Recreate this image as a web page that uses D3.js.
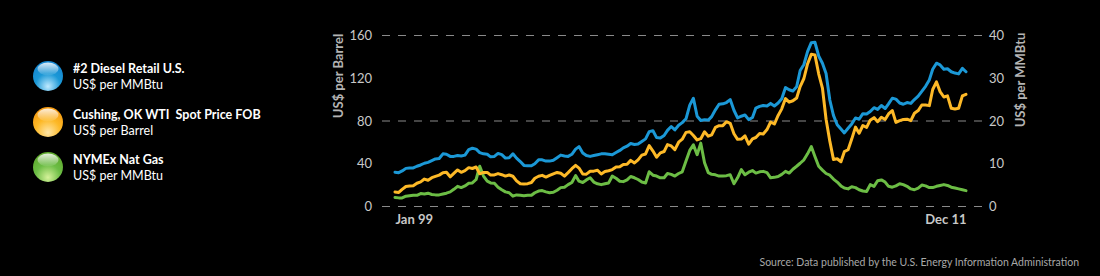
<!DOCTYPE html>
<html>
<head>
<meta charset="utf-8">
<script src="https://cdn.jsdelivr.net/npm/d3@7"></script>
<style>
  html, body { margin: 0; padding: 0; background: #000; }
  svg { display: block; }
  text { white-space: pre; }
</style>
</head>
<body>
<svg id="chart" width="1100" height="276"></svg>
<script>
// ---------------- DATA ----------------
const startMonth = "1999-01";
const seriesNames = ["#2 Diesel Retail U.S.", "Cushing, OK WTI  Spot Price FOB", "NYMEx Nat Gas"];
const seriesUnits = ["US$ per MMBtu", "US$ per Barrel", "US$ per MMBtu"];
const seriesColors = ["#1b98d6", "#fdb927", "#6cbd45"];

// #2 Diesel retail, US$ per MMBtu (right axis), monthly Jan 1999 - Dec 2011
const diesel = [
  7.9, 7.8, 8.2, 8.8, 8.9, 8.9, 9.3, 9.6, 10.0, 10.2, 10.6, 11.0,
  11.1, 12.2, 12.1, 11.6, 11.6, 11.8, 11.7, 11.9, 13.2, 13.5, 13.3, 12.5,
  12.2, 12.1, 11.5, 11.6, 12.3, 12.0, 11.2, 11.3, 12.2, 11.2, 10.4, 9.5,
  9.4, 9.4, 9.9, 10.8, 10.8, 10.5, 10.5, 10.7, 11.3, 11.9, 11.7, 11.6,
  12.1, 13.3, 13.9, 12.4, 11.8, 11.6, 11.8, 12.0, 12.2, 12.2, 12.1, 12.0,
  12.5, 13.0, 13.6, 14.0, 14.6, 14.4, 14.5, 15.1, 15.7, 17.4, 17.6, 16.0,
  15.9, 16.5, 17.7, 18.6, 17.8, 18.9, 19.5, 20.4, 23.6, 25.2, 21.0, 20.0,
  20.2, 20.1, 20.9, 22.5, 23.8, 23.9, 24.2, 24.9, 22.4, 20.6, 21.0, 21.3,
  20.2, 20.7, 22.9, 23.3, 23.5, 23.4, 24.0, 23.4, 24.1, 25.1, 27.7, 27.2,
  26.9, 27.9, 31.7, 33.1, 36.1, 38.2, 38.3, 35.1, 33.4, 31.0, 24.8, 21.2,
  19.0, 18.0, 17.1, 18.2, 19.2, 20.6, 20.3, 21.6, 21.5, 22.1, 23.0, 22.6,
  23.5, 22.8, 23.9, 25.2, 25.0, 24.1, 23.8, 24.2, 24.0, 24.9, 25.7, 26.8,
  28.0, 29.5, 32.0, 33.4, 33.0, 32.0, 32.1, 31.4, 31.1, 30.9, 32.2, 31.4
];

// Cushing OK WTI spot, US$ per Barrel (left axis)
const wti = [
  13.2, 12.7, 15.6, 18.3, 18.8, 19.0, 21.3, 22.6, 25.2, 24.1, 26.5, 27.7,
  28.9, 31.1, 31.6, 27.3, 30.5, 33.7, 31.5, 33.1, 35.9, 35.1, 36.5, 30.1,
  31.4, 31.4, 28.9, 29.1, 30.3, 29.3, 28.0, 29.0, 27.8, 23.5, 20.8, 20.6,
  20.9, 22.0, 26.0, 27.8, 28.7, 27.1, 28.6, 30.1, 31.4, 30.6, 27.9, 31.2,
  34.9, 38.0, 35.5, 29.9, 29.8, 32.5, 32.6, 33.5, 30.0, 32.2, 33.0, 34.1,
  36.4, 36.8, 38.9, 39.0, 42.7, 40.3, 43.2, 47.6, 48.7, 56.5, 51.4, 45.7,
  49.7, 51.0, 57.4, 56.2, 52.8, 59.7, 62.5, 68.9, 69.5, 66.0, 61.8, 63.0,
  69.4, 65.3, 66.5, 73.6, 75.1, 75.2, 78.9, 77.4, 67.6, 62.4, 62.6, 65.7,
  57.8, 62.8, 64.1, 67.8, 67.3, 71.5, 78.6, 76.7, 84.7, 90.9, 100.5, 97.2,
  98.5, 101.1, 111.8, 119.3, 132.9, 141.9, 141.4, 123.7, 110.4, 81.2, 60.7, 43.6,
  44.2, 41.4, 50.8, 52.6, 62.6, 73.8, 68.0, 75.3, 73.6, 80.3, 82.7, 78.9,
  83.0, 81.0, 86.1, 89.3, 78.2, 79.9, 80.9, 81.2, 79.8, 86.8, 89.3, 94.5,
  94.5, 93.9, 109.0, 116.1, 107.0, 102.0, 103.1, 91.5, 90.7, 91.5, 103.0, 104.5
];

// NYMEX natural gas, US$ per MMBtu (right axis)
const natgas = [
  2.0, 1.9, 1.9, 2.3, 2.4, 2.5, 2.5, 2.9, 2.8, 3.0, 2.7, 2.6,
  2.6, 2.8, 3.0, 3.3, 3.9, 4.6, 4.3, 4.7, 5.3, 5.4, 6.2, 9.3,
  7.0, 5.8, 5.4, 5.3, 4.4, 3.8, 3.3, 3.1, 2.3, 2.6, 2.5, 2.4,
  2.5, 2.5, 3.1, 3.5, 3.6, 3.3, 3.1, 3.2, 3.7, 4.3, 4.4, 5.0,
  5.5, 7.1, 5.8, 5.5, 6.1, 6.6, 5.6, 5.2, 5.0, 5.2, 5.4, 7.0,
  6.5, 5.8, 5.7, 6.1, 6.9, 6.6, 6.2, 5.6, 5.4, 8.0, 7.2, 7.0,
  6.6, 6.6, 7.6, 7.4, 7.0, 7.6, 8.0, 10.5, 13.0, 14.3, 12.0, 14.7,
  10.1, 7.8, 7.4, 7.3, 7.0, 7.0, 7.1, 7.3, 5.2, 6.6, 8.5, 7.3,
  7.9, 8.3, 7.7, 8.0, 8.1, 7.8, 6.6, 6.7, 6.9, 7.4, 8.1, 7.7,
  8.6, 9.3, 10.0, 10.8, 12.2, 13.9, 11.6, 9.3, 8.4, 7.6, 7.2, 6.3,
  5.6, 4.7, 4.2, 4.0, 4.5, 4.3, 3.8, 3.5, 3.4, 5.0, 4.6, 5.9,
  6.1, 5.6, 4.6, 4.4, 4.7, 5.2, 5.0, 4.6, 4.0, 3.8, 4.2, 4.9,
  4.7, 4.3, 4.3, 4.6, 4.8, 5.0, 4.8, 4.4, 4.2, 4.0, 3.8, 3.6
];

const leftTicks = [0, 40, 80, 120, 160];
const rightTicks = [0, 10, 20, 30, 40];
const gridTicks = [0, 80, 160];
const xLabelDates = ["1999-01", "2011-12"];
const xLabels = ["Jan 99", "Dec 11"];
const leftTitle = "US$ per Barrel";
const rightTitle = "US$ per MMBtu";
const sourceText = "Source: Data published by the U.S. Energy Information Administration";

// ---------------- DRAW ----------------
const FONT = "Lato, 'Open Sans', sans-serif";
const svg = d3.select("#chart");
svg.append("rect").attr("width", 1100).attr("height", 276).attr("fill", "#000");

const parseM = d3.timeParse("%Y-%m");
const t0 = parseM(startMonth);
const dates = diesel.map((_, i) => d3.timeMonth.offset(t0, i));

const x = d3.scaleTime().domain([dates[0], dates[dates.length - 1]]).range([395, 966]);
const yL = d3.scaleLinear().domain([0, 160]).range([206, 35]);
const yR = d3.scaleLinear().domain([0, 40]).range([206, 35]);

// grid
const grid = svg.append("g");
grid.selectAll("line").data(gridTicks).join("line")
  .attr("x1", 382).attr("x2", 984)
  .attr("y1", d => yL(d) + 0.5).attr("y2", d => yL(d) + 0.5)
  .attr("stroke", "#8a8a8a").attr("stroke-width", 1)
  .attr("stroke-dasharray", "8,8");

// left axis
const gL = svg.append("g").attr("transform", "translate(372,0)")
  .call(d3.axisLeft(yL).tickValues(leftTicks).tickSize(0).tickPadding(0).tickFormat(d3.format("d")));
gL.select(".domain").remove();
gL.selectAll("text").attr("fill", "#c8c8c8").attr("font-family", FONT).attr("font-size", 13).attr("dy", "0.35em");

// right axis
const gR = svg.append("g").attr("transform", "translate(989,0)")
  .call(d3.axisRight(yR).tickValues(rightTicks).tickSize(0).tickPadding(0).tickFormat(d3.format("d")));
gR.select(".domain").remove();
gR.selectAll("text").attr("fill", "#c8c8c8").attr("font-family", FONT).attr("font-size", 13).attr("dy", "0.35em");

// x axis labels
const gX = svg.append("g").attr("transform", "translate(0,206)")
  .call(d3.axisBottom(x).tickValues(xLabelDates.map(parseM)).tickSize(0).tickPadding(0)
    .tickFormat((d, i) => xLabels[i]));
gX.select(".domain").remove();
gX.selectAll("text")
  .attr("fill", "#c8c8c8").attr("font-family", FONT).attr("font-size", 13).attr("font-weight", "bold")
  .attr("y", 18).attr("dy", 0)
  .attr("text-anchor", (d, i) => i === 0 ? "start" : "end");

// axis titles
svg.append("text").attr("transform", "translate(343,76) rotate(-90)")
  .attr("text-anchor", "middle").attr("fill", "#b4b4b4")
  .attr("font-family", FONT).attr("font-weight", "bold").attr("font-size", 13)
  .text(leftTitle);
svg.append("text").attr("transform", "translate(1025,80) rotate(-90)")
  .attr("text-anchor", "middle").attr("fill", "#b4b4b4")
  .attr("font-family", FONT).attr("font-weight", "bold").attr("font-size", 13)
  .text(rightTitle);

// lines
const lineR = d3.line().x((d, i) => x(dates[i])).y(d => yR(d));
const lineL = d3.line().x((d, i) => x(dates[i])).y(d => yL(d));
const plot = svg.append("g").attr("fill", "none").attr("stroke-width", 3)
  .attr("stroke-linejoin", "round").attr("stroke-linecap", "round");
plot.append("path").attr("d", lineR(natgas)).attr("stroke", seriesColors[2]);
plot.append("path").attr("d", lineL(wti)).attr("stroke", seriesColors[1]);
plot.append("path").attr("d", lineR(diesel)).attr("stroke", seriesColors[0]);

// legend spheres
const defs = svg.append("defs");
const sphereLight = ["#bfeaff", "#ffe6a8", "#d6f29a"];
const sphereDark = ["#1485cf", "#f59a10", "#5eaa2c"];
seriesColors.forEach((c, i) => {
  const g = defs.append("radialGradient").attr("id", "sph" + i)
    .attr("cx", "50%").attr("cy", "80%").attr("r", "75%").attr("fx", "50%").attr("fy", "85%");
  g.append("stop").attr("offset", "0%").attr("stop-color", sphereLight[i]);
  g.append("stop").attr("offset", "55%").attr("stop-color", c);
  g.append("stop").attr("offset", "100%").attr("stop-color", sphereDark[i]);
});
const hl = defs.append("linearGradient").attr("id", "hl").attr("x1", 0).attr("y1", 0).attr("x2", 0).attr("y2", 1);
hl.append("stop").attr("offset", "0%").attr("stop-color", "#fff").attr("stop-opacity", 0.85);
hl.append("stop").attr("offset", "100%").attr("stop-color", "#fff").attr("stop-opacity", 0.05);

const legend = svg.append("g");
const rowY = [76, 122, 167];
seriesNames.forEach((name, i) => {
  const g = legend.append("g").attr("transform", `translate(0,${rowY[i]})`);
  g.append("circle").attr("cx", 48).attr("cy", 0).attr("r", 15).attr("fill", `url(#sph${i})`);
  g.append("ellipse").attr("cx", 48).attr("cy", -7).attr("rx", 10.5).attr("ry", 6.5).attr("fill", "url(#hl)");
  g.append("text").attr("x", 73).attr("y", -3)
    .attr("fill", "#fff").attr("font-family", FONT).attr("font-weight", "bold").attr("font-size", 12.5)
    .text(name);
  g.append("text").attr("x", 73).attr("y", 13)
    .attr("fill", "#fff").attr("font-family", FONT).attr("font-size", 12.5)
    .text(seriesUnits[i]);
});

// source
svg.append("text").attr("x", 1079).attr("y", 266).attr("text-anchor", "end")
  .attr("fill", "#a8a8a8").attr("font-family", FONT).attr("font-size", 10.5)
  .text(sourceText);
</script>
</body>
</html>
